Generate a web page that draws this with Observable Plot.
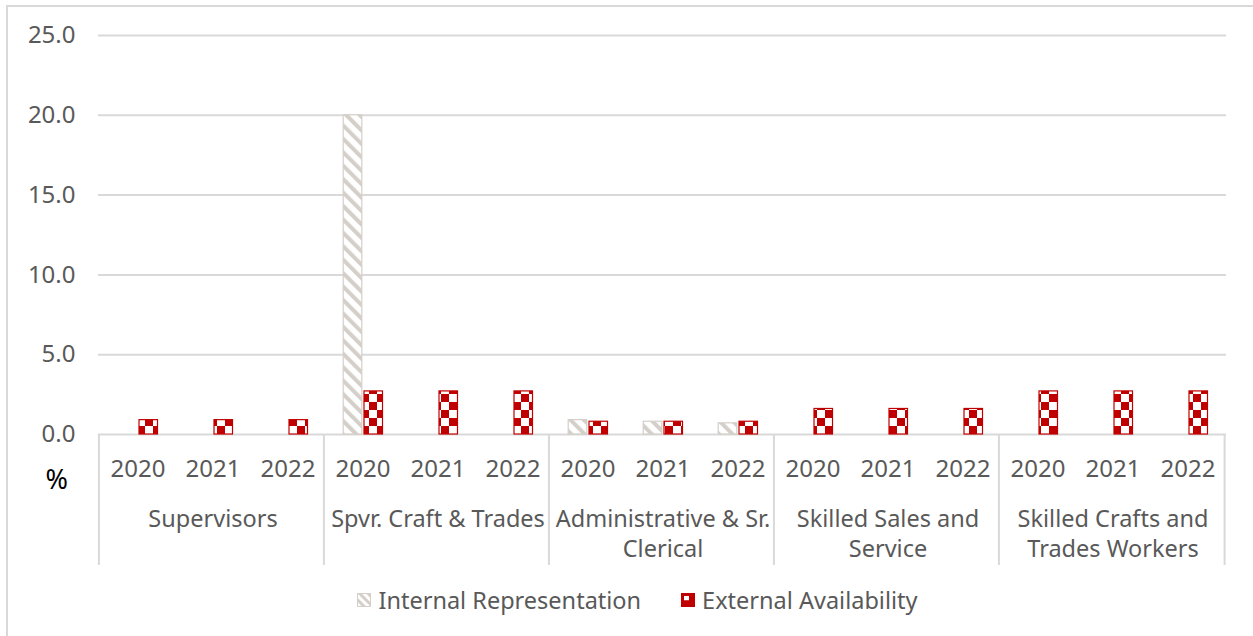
<!DOCTYPE html>
<html>
<head>
<meta charset="utf-8">
<script src="https://cdn.jsdelivr.net/npm/d3@7"></script>
<script src="https://cdn.jsdelivr.net/npm/@observablehq/plot@0.6"></script>
<style>
  html, body { margin: 0; padding: 0; background: #fff; }
  body { width: 1253px; height: 636px; position: relative; overflow: hidden; font-family: "Noto Sans", sans-serif; }
  #frame { position: absolute; left: 6px; top: 5px; width: 1260px; height: 640px;
           border-left: 2px solid #d9d9d9; border-top: 2px solid #d9d9d9; pointer-events: none; }
  #chart { position: absolute; left: 0; top: 0; }
  #legend { position: absolute; left: 0; top: 585px; width: 1253px; height: 30px;
            display: flex; justify-content: center; align-items: center; gap: 40px;
            font-size: 23.5px; color: #595959; padding-left: 22px; box-sizing: border-box; }
  .item { display: flex; align-items: center; gap: 7px; }
  .item svg { display: block; }
</style>
</head>
<body>
<div id="chart"></div>
<div id="legend"></div>
<div id="frame"></div>
<script>
// Occupational groups and the years reported for each
const categories = [
  "Supervisors",
  "Spvr. Craft & Trades",
  "Administrative & Sr.\nClerical",
  "Skilled Sales and\nService",
  "Skilled Crafts and\nTrades Workers"
];
const years = ["2020", "2021", "2022"];
const seriesNames = ["Internal Representation", "External Availability"];

// Percentages, one row of three years per group
const internalRep = [
  [0, 0, 0],
  [20.0, 0, 0],
  [0.9, 0.8, 0.7],
  [0, 0, 0],
  [0, 0, 0]
];
const externalAvail = [
  [0.9, 0.9, 0.9],
  [2.7, 2.7, 2.7],
  [0.8, 0.8, 0.8],
  [1.6, 1.6, 1.6],
  [2.7, 2.7, 2.7]
];
const yTicks = [0, 5, 10, 15, 20, 25];

const key = (c, y) => `${c}|${y}`;
const slots = categories.flatMap(c => years.map(y => key(c, y)));

const rows = (values) => categories.flatMap((c, i) =>
  years.map((y, j) => ({slot: key(c, y), value: values[i][j]})));
const internalRows = rows(internalRep).filter(d => d.value > 0);
const externalRows = rows(externalAvail).filter(d => d.value > 0);

const W = 1253, H = 580;
const mL = 98, mR = 27, mT = 35, mB = H - 434;
const band = (W - mL - mR) / slots.length;

const groupMid = categories.map(c => ({slot: key(c, years[1]), label: c}));
const leftEdges = categories.map(c => key(c, years[0]));
const lastSlot = key(categories[categories.length - 1], years[years.length - 1]);

const textColor = "#595959";
const red = "#c00000";
const stripeGray = "#d4cfc9";

const chart = Plot.plot({
  width: W,
  height: H,
  marginLeft: mL,
  marginRight: mR,
  marginTop: mT,
  marginBottom: mB,
  style: {fontFamily: "Noto Sans, sans-serif", fontSize: "24px", color: textColor, background: "transparent"},
  x: {domain: slots, padding: 0, axis: null},
  y: {domain: [0, 25], axis: null},
  marks: [
    Plot.gridY(yTicks, {stroke: "#d9d9d9", strokeOpacity: 1, strokeWidth: 2}),
    Plot.axisY(yTicks, {tickSize: 0, tickPadding: 23, tickFormat: d3.format(".1f"), fontSize: 24, fill: textColor, label: null}),
    Plot.axisX(slots, {tickSize: 0, tickPadding: 25, tickFormat: d => d.split("|")[1], fontSize: 24, fill: textColor, label: null}),
    // group separators under the axis
    Plot.ruleX(leftEdges, {x: d => d, y1: 0, y2: 0, insetBottom: -131, dx: -band / 2 - 1.5, stroke: "#d9d9d9", strokeWidth: 2}),
    Plot.ruleX([lastSlot], {x: d => d, y1: 0, y2: 0, insetBottom: -131, dx: band / 2 - 1, stroke: "#d9d9d9", strokeWidth: 2}),
    Plot.text(groupMid, {x: "slot", y: 0, text: "label", dy: 71, lineAnchor: "top", lineHeight: 1.27, fontSize: 23.5, fill: textColor}),
    Plot.text(["%"], {frameAnchor: "bottom-left", text: d => d, dx: -53, dy: 54, fontSize: 27, fill: "#000"}),
    Plot.barY(internalRows, {x: "slot", y: "value", fill: "url(#stripes)", stroke: stripeGray, strokeWidth: 1.2, insetLeft: 18.2, insetRight: band - 37}),
    Plot.barY(externalRows, {x: "slot", y: "value", fill: "url(#checks)", stroke: red, strokeWidth: 1.2, insetLeft: 39, insetRight: band - 57.7})
  ]
});

// fill patterns for the two series
const defs = `
<defs>
  <pattern id="stripes" patternUnits="userSpaceOnUse" width="9.5" height="9.5" patternTransform="rotate(-45)">
    <rect width="9.5" height="9.5" fill="#fff"/>
    <rect width="4" height="9.5" fill="${stripeGray}"/>
  </pattern>
  <pattern id="checks" patternUnits="userSpaceOnUse" width="16" height="16" x="1" y="2">
    <rect width="16" height="16" fill="#fff"/>
    <rect width="8" height="8" fill="${red}"/>
    <rect x="8" y="8" width="8" height="8" fill="${red}"/>
  </pattern>
  <pattern id="stripesSmall" patternUnits="userSpaceOnUse" width="6" height="6" patternTransform="rotate(-45)">
    <rect width="6" height="6" fill="#fff"/>
    <rect width="3" height="6" fill="${stripeGray}"/>
  </pattern>
</defs>`;
chart.insertAdjacentHTML("afterbegin", defs);
document.getElementById("chart").appendChild(chart);

// legend
const legend = d3.select("#legend");
const swatches = [
  {name: seriesNames[0], html: `<svg width="14" height="14"><rect x="0.5" y="0.5" width="13" height="13" fill="url(#stripesSmall)" stroke="${stripeGray}"/></svg>`},
  {name: seriesNames[1], html: `<svg width="14" height="14"><rect x="0.5" y="0.5" width="13" height="13" fill="${red}" stroke="${red}"/><rect x="3" y="3" width="5" height="4.5" fill="#fff"/><rect x="3" y="7.5" width="5" height="4" fill="${red}"/></svg>`}
];
for (const s of swatches) {
  const item = legend.append("div").attr("class", "item");
  item.append("span").html(s.html);
  item.append("span").text(s.name);
}
</script>
</body>
</html>
